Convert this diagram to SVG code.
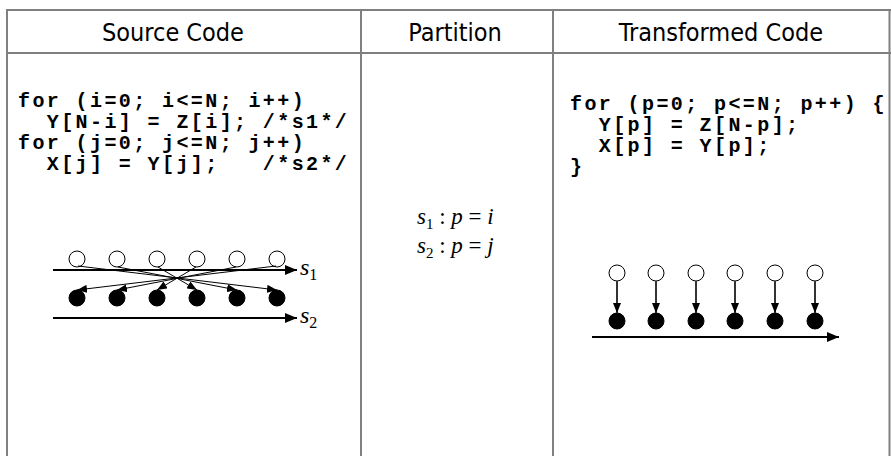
<svg xmlns="http://www.w3.org/2000/svg" width="891" height="456" viewBox="0 0 891 456">
  <style>
    .hline { stroke: #000; stroke-width: 1.2; }
    .vline { stroke: #808080; stroke-width: 2; }
    .head { font-family: "DejaVu Sans Condensed", "DejaVu Sans", sans-serif; font-size: 25px; fill: #000; text-anchor: middle; }
    .code { font-family: "Liberation Mono", "Courier New", monospace; font-weight: bold; font-size: 20px; letter-spacing: 2.4px; fill: #000; white-space: pre; }
    .math { font-family: "Liberation Serif", "Times New Roman", serif; fill: #000; }
    .it { font-style: italic; }
    .open { fill: #fff; stroke: #000; stroke-width: 1; }
    .full { fill: #000; stroke: #000; stroke-width: 1; }
    .dep { stroke: #000; stroke-width: 1; fill: none; }
    .axis { stroke: #000; stroke-width: 2; fill: none; }
    .vdep { stroke: #333; stroke-width: 2; fill: none; }
  </style>
  <defs>
    <marker id="ah" viewBox="0 0 10 8" refX="10" refY="4" markerWidth="10" markerHeight="8" markerUnits="userSpaceOnUse" orient="auto">
      <path d="M0,0 L10,4 L0,8 z" fill="#000"/>
    </marker>
    <marker id="ahBig" viewBox="0 0 12 10" refX="12" refY="5" markerWidth="12" markerHeight="10" markerUnits="userSpaceOnUse" orient="auto">
      <path d="M0,0 L12,5 L0,10 z" fill="#000"/>
    </marker>
  </defs>

  <!-- table frame -->
  <g id="table">
    <line class="hline" x1="7" y1="10" x2="891" y2="10"/>
    <line class="hline" x1="7" y1="53" x2="891" y2="53"/>
    <line class="vline" x1="7" y1="9" x2="7" y2="456"/>
    <line class="vline" x1="361" y1="9" x2="361" y2="456"/>
    <line class="vline" x1="553" y1="9" x2="553" y2="456"/>
    <line class="vline" x1="889.5" y1="9" x2="889.5" y2="456"/>
  </g>

  <!-- column headings -->
  <g id="headings">
    <text class="head" x="173" y="41">Source Code</text>
    <text class="head" x="455" y="41">Partition</text>
    <text class="head" x="721" y="41">Transformed Code</text>
  </g>

  <!-- original loops -->
  <g id="source-code">
    <text class="code" x="18" y="107">for (i=0; i&lt;=N; i++)</text>
    <text class="code" x="18" y="128">  Y[N-i] = Z[i]; /*s1*/</text>
    <text class="code" x="18" y="149">for (j=0; j&lt;=N; j++)</text>
    <text class="code" x="18" y="170">  X[j] = Y[j];   /*s2*/</text>
  </g>

  <!-- fused loop -->
  <g id="transformed-code">
    <text class="code" x="570" y="110">for (p=0; p&lt;=N; p++) {</text>
    <text class="code" x="570" y="131">  Y[p] = Z[N-p];</text>
    <text class="code" x="570" y="152">  X[p] = Y[p];</text>
    <text class="code" x="570" y="173">}</text>
  </g>

  <!-- affine partition mappings -->
  <g id="partition">
    <text class="math" x="417" y="224" font-size="23"><tspan class="it">s</tspan><tspan font-size="15" dy="5">1</tspan><tspan dy="-5"> : </tspan><tspan class="it">p</tspan><tspan> = </tspan><tspan class="it">i</tspan></text>
    <text class="math" x="417" y="253" font-size="23"><tspan class="it">s</tspan><tspan font-size="15" dy="5">2</tspan><tspan dy="-5"> : </tspan><tspan class="it">p</tspan><tspan> = </tspan><tspan class="it">j</tspan></text>
  </g>

  <!-- source iteration graph -->
  <g id="src-s1-nodes">
    <circle class="open" cx="77" cy="259" r="8"/>
    <circle class="open" cx="117" cy="259" r="8"/>
    <circle class="open" cx="157" cy="259" r="8"/>
    <circle class="open" cx="197" cy="259" r="8"/>
    <circle class="open" cx="237" cy="259" r="8"/>
    <circle class="open" cx="277" cy="259" r="8"/>
  </g>
  <g id="src-s2-nodes">
    <circle class="full" cx="77" cy="298" r="8"/>
    <circle class="full" cx="117" cy="298" r="8"/>
    <circle class="full" cx="157" cy="298" r="8"/>
    <circle class="full" cx="197" cy="298" r="8"/>
    <circle class="full" cx="237" cy="298" r="8"/>
    <circle class="full" cx="277" cy="298" r="8"/>
  </g>
  <g id="src-axes">
    <line class="axis" x1="53" y1="270" x2="297" y2="270" marker-end="url(#ahBig)"/>
    <line class="axis" x1="53" y1="318" x2="297" y2="318" marker-end="url(#ahBig)"/>
    <text class="math it" x="300" y="275" font-size="24">s<tspan font-size="16" dy="5" font-style="normal">1</tspan></text>
    <text class="math it" x="300" y="323" font-size="24">s<tspan font-size="16" dy="5" font-style="normal">2</tspan></text>
  </g>

  <!-- transformed iteration graph -->
  <g id="dst-s1-nodes">
    <circle class="open" cx="617" cy="273" r="8"/>
    <circle class="open" cx="656" cy="273" r="8"/>
    <circle class="open" cx="696" cy="273" r="8"/>
    <circle class="open" cx="735" cy="273" r="8"/>
    <circle class="open" cx="775" cy="273" r="8"/>
    <circle class="open" cx="815" cy="273" r="8"/>
  </g>
  <g id="dst-s2-nodes">
    <circle class="full" cx="617" cy="321" r="8"/>
    <circle class="full" cx="656" cy="321" r="8"/>
    <circle class="full" cx="696" cy="321" r="8"/>
    <circle class="full" cx="735" cy="321" r="8"/>
    <circle class="full" cx="775" cy="321" r="8"/>
    <circle class="full" cx="815" cy="321" r="8"/>
  </g>

  <!-- dependence edges -->
  <g id="connectors">
    <line class="dep" x1="78" y1="266" x2="277" y2="290" marker-end="url(#ah)"/>
    <line class="dep" x1="118" y1="267" x2="237" y2="290" marker-end="url(#ah)"/>
    <line class="dep" x1="158" y1="267" x2="197" y2="290" marker-end="url(#ah)"/>
    <line class="dep" x1="196" y1="267" x2="157" y2="290" marker-end="url(#ah)"/>
    <line class="dep" x1="236" y1="267" x2="117" y2="290" marker-end="url(#ah)"/>
    <line class="dep" x1="276" y1="266" x2="77" y2="290" marker-end="url(#ah)"/>

    <line class="vdep" x1="617" y1="281" x2="617" y2="313" marker-end="url(#ah)"/>
    <line class="vdep" x1="656" y1="281" x2="656" y2="313" marker-end="url(#ah)"/>
    <line class="vdep" x1="696" y1="281" x2="696" y2="313" marker-end="url(#ah)"/>
    <line class="vdep" x1="735" y1="281" x2="735" y2="313" marker-end="url(#ah)"/>
    <line class="vdep" x1="775" y1="281" x2="775" y2="313" marker-end="url(#ah)"/>
    <line class="vdep" x1="815" y1="281" x2="815" y2="313" marker-end="url(#ah)"/>
    <line class="axis" x1="592" y1="337" x2="839" y2="337" marker-end="url(#ahBig)"/>
  </g>
</svg>
